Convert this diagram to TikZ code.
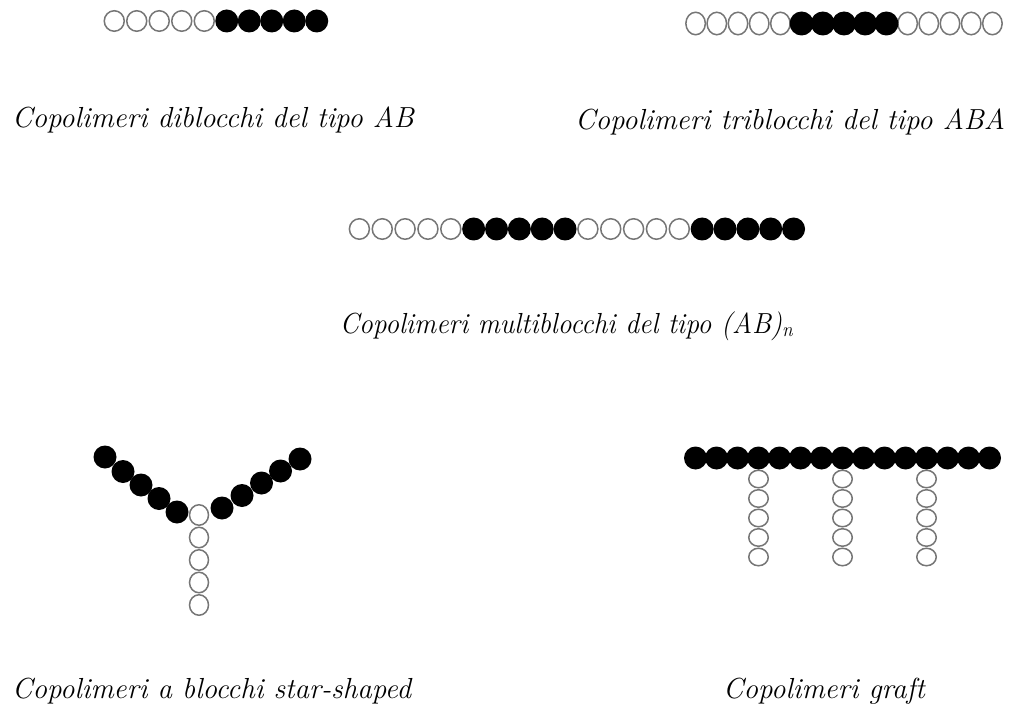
\documentclass[tikz,border=0pt]{standalone}
\usepackage{fontspec}
\usetikzlibrary{shapes.geometric}
\definecolor{ringgray}{RGB}{118,118,118}
\tikzset{
  x=1pt, y=-1pt,
  % monomer A: open grey ring; monomer B: solid black bead
  monoA/.style={ellipse, draw=ringgray, line width=1.5pt, fill=white,
                inner sep=0pt, minimum width=20pt, minimum height=20.5pt},
  monoB/.style={circle, fill=black, inner sep=0pt, minimum size=23pt},
  caption/.style={anchor=base west, inner sep=0pt,
                  font=\fontsize{29}{34}\selectfont\itshape}
}
\begin{document}
\begin{tikzpicture}
\path[use as bounding box] (0,0) rectangle (1032,708);

% --- diblock AB ---
\foreach \i in {0,...,4} \node[monoA] (di\i) at ({114.25+22.5*\i},21) {};
\foreach \i in {5,...,9} \node[monoB, minimum size=23pt] (di\i) at ({114.25+22.5*\i},21) {};
\node[caption] (capdi) at (12,128) {Copolimeri diblocchi del tipo AB};

% --- triblock ABA ---
\foreach \i in {0,...,4,10,11,12,13,14}
  \node[monoA, minimum width=19.5pt, minimum height=22.5pt] (tri\i) at ({695.6+21.2*\i},23.5) {};
\foreach \i in {5,...,9}
  \node[monoB, minimum size=24pt] (tri\i) at ({695.6+21.2*\i},23.5) {};
\node[caption] (captri) at (575,130) {Copolimeri triblocchi del tipo ABA};

% --- multiblock (AB)n ---
\foreach \i in {0,...,4,10,11,12,13,14}
  \node[monoA] (mu\i) at ({359.4+22.85*\i},229) {};
\foreach \i in {5,...,9,15,16,17,18,19}
  \node[monoB] (mu\i) at ({359.4+22.85*\i},229) {};
\node[caption, anchor=base] (capmu) at (566.5,333)
  {\scalebox{0.95}[1]{Copolimeri multiblocchi del tipo (AB)\textsubscript{n}}};

% --- star-shaped ---
\foreach \y [count=\k] in {515,537.5,560,582.5,605}
  \node[monoA, minimum width=19pt, minimum height=20.5pt] (sa\k) at (199,\y) {};
\foreach \x/\y [count=\k] in {105/457,123/471.5,141/485,159/498.5,177/512}
  \node[monoB] (sl\k) at (\x,\y) {};
\foreach \x/\y [count=\k] in {222/508,242/495.5,261.5/483,280.5/471,300/459}
  \node[monoB] (sr\k) at (\x,\y) {};
\node[caption] (capst) at (12,698) {Copolimeri a blocchi star-shaped};

% --- graft ---
\foreach \k in {3,7,11}
  \foreach \y [count=\j] in {479,498.5,518,537.5,557}
    \node[monoA, minimum width=19.5pt, minimum height=17.5pt] (g\k-\j) at ({695.5+21*\k},\y) {};
\foreach \k in {0,...,14}
  \node[monoB] (gb\k) at ({695.5+21*\k},458) {};
\node[caption] (capgr) at (723,698) {Copolimeri graft};
\end{tikzpicture}
\end{document}
